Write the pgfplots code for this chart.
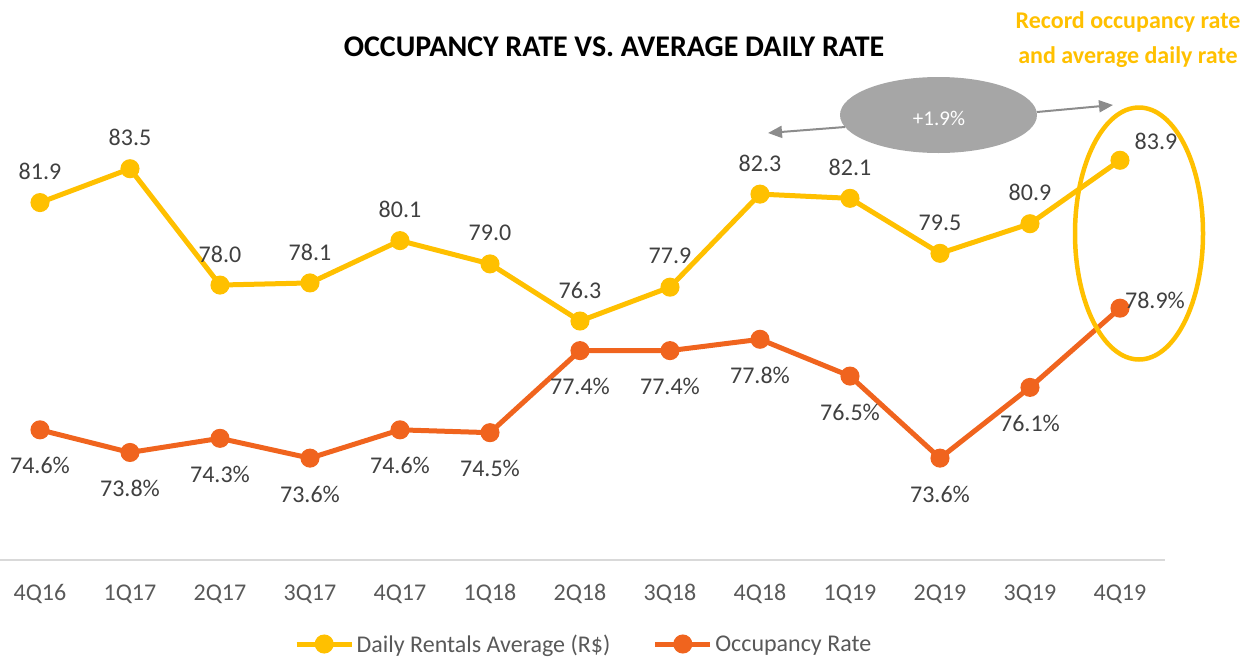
\documentclass[border=0pt]{standalone}
\usepackage{pgfplots}
\pgfplotsset{compat=1.18}
\usepackage{pgfplotstable}
\usepackage{fontspec}
\setmainfont{Carlito}
\usetikzlibrary{arrows.meta}
\definecolor{cyel}{HTML}{FFC000}
\definecolor{corg}{HTML}{F0641E}
\definecolor{ctxt}{HTML}{404040}
\definecolor{ctick}{HTML}{595959}
\definecolor{cbase}{HTML}{D9D9D9}
\definecolor{cell}{HTML}{A6A6A6}
\definecolor{carr}{HTML}{8C8C8C}
\tikzset{lab/.style={font=\fontsize{24}{28}\selectfont, text=ctxt, anchor=center, inner sep=0pt}}

\pgfplotstableread{
x y
0 81.9
1 83.5
2 78.0
3 78.1
4 80.1
5 79.0
6 76.3
7 77.9
8 82.3
9 82.1
10 79.5
11 80.9
12 83.9
}\yel

\pgfplotstableread{
x y
0 74.6
1 73.8
2 74.3
3 73.6
4 74.6
5 74.5
6 77.4
7 77.4
8 77.8
9 76.5
10 73.6
11 76.1
12 78.9
}\org

\begin{document}
\begin{tikzpicture}[x=1pt,y=1pt]
\path[use as bounding box] (0,0) rectangle (1243,-657);
\pgfplotsset{
  base/.style={scale only axis, width=1165pt, height=500pt,
    at={(0pt,-560pt)}, anchor=south west,
    xmin=-0.4444, xmax=12.5, clip=false,
    /pgf/number format/assume math mode=true,
    /pgf/number format/fixed,
    /pgf/number format/fixed zerofill,
    /pgf/number format/precision=1},
}
\begin{axis}[base, ymin=65, ymax=88.64,
  axis y line=none, axis x line*=bottom,
  x axis line style={draw=cbase, line width=1.5pt, -},
  xtick={0,...,12},
  xticklabels={4Q16,1Q17,2Q17,3Q17,4Q17,1Q18,2Q18,3Q18,4Q18,1Q19,2Q19,3Q19,4Q19},
  major tick length=0pt,
  xticklabel style={font=\fontsize{24}{28}\selectfont, text=ctick, anchor=base, yshift=-40pt},
  legend style={draw=none, fill=none, at={(axis description cs:0.5013,0)}, anchor=center, yshift=-84pt,
    legend columns=2, font=\fontsize{24}{28}\selectfont, text=ctick,
    /tikz/every even column/.append style={column sep=40pt},
    nodes={inner sep=2.5pt}},
  legend image code/.code={\draw[mark repeat=2,mark phase=2,#1] plot coordinates {(0pt,0pt) (27.5pt,0pt) (55pt,0pt)};},
]
\addplot[cyel, line width=5pt, mark=*, mark size=7pt, mark options={solid}] table[x=x,y=y]{\yel};
\addlegendentry{Daily Rentals Average (R\$)}
\addlegendimage{corg, line width=5pt, mark=*, mark size=7pt, mark options={solid}}
\addlegendentry{Occupancy Rate}
\addplot[draw=none, mark=none, forget plot, nodes near coords,
  nodes near coords style={lab, yshift=31pt},
  skip coords between index={12}{13}] table[x=x,y=y]{\yel};
\addplot[draw=none, mark=none, forget plot, nodes near coords,
  nodes near coords style={lab, xshift=36pt, yshift=19pt},
  skip coords between index={0}{12}] table[x=x,y=y]{\yel};
\end{axis}
\begin{axis}[base, ymin=70, ymax=87.67, hide x axis, hide y axis]
\addplot[corg, line width=5pt, mark=*, mark size=7pt, mark options={solid}] table[x=x,y=y]{\org};
\addplot[draw=none, mark=none, forget plot,
  nodes near coords={\pgfmathprintnumber{\pgfplotspointmeta}\%},
  nodes near coords style={lab, yshift=-36pt},
  skip coords between index={12}{13}] table[x=x,y=y]{\org};
\addplot[draw=none, mark=none, forget plot,
  nodes near coords={\pgfmathprintnumber{\pgfplotspointmeta}\%},
  nodes near coords style={lab, xshift=35pt, yshift=8pt},
  skip coords between index={0}{12}] table[x=x,y=y]{\org};
\end{axis}
\node[font=\bfseries\fontsize{30}{36}\selectfont, text=black] at (614,-47) {OCCUPANCY RATE VS. AVERAGE DAILY RATE};
\node[font=\bfseries\fontsize{24}{35}\selectfont, text=cyel, align=center] at (1128,-39.5) {Record occupancy rate\\and average daily rate};
\fill[cell] (938.5,-115) ellipse [x radius=98.5, y radius=38];
\node[text=white, font=\fontsize{21}{25}\selectfont] at (939,-118) {+1.9\%};
\draw[carr, line width=2pt, -{Triangle[length=14pt,width=12pt]}] (845,-127) -- (768,-133);
\draw[carr, line width=2pt, -{Triangle[length=14pt,width=12pt]}] (1037,-112) -- (1113,-105);
\draw[cyel, line width=4.5pt] (1139,-233.5) ellipse [x radius=64, y radius=126];
\end{tikzpicture}
\end{document}
